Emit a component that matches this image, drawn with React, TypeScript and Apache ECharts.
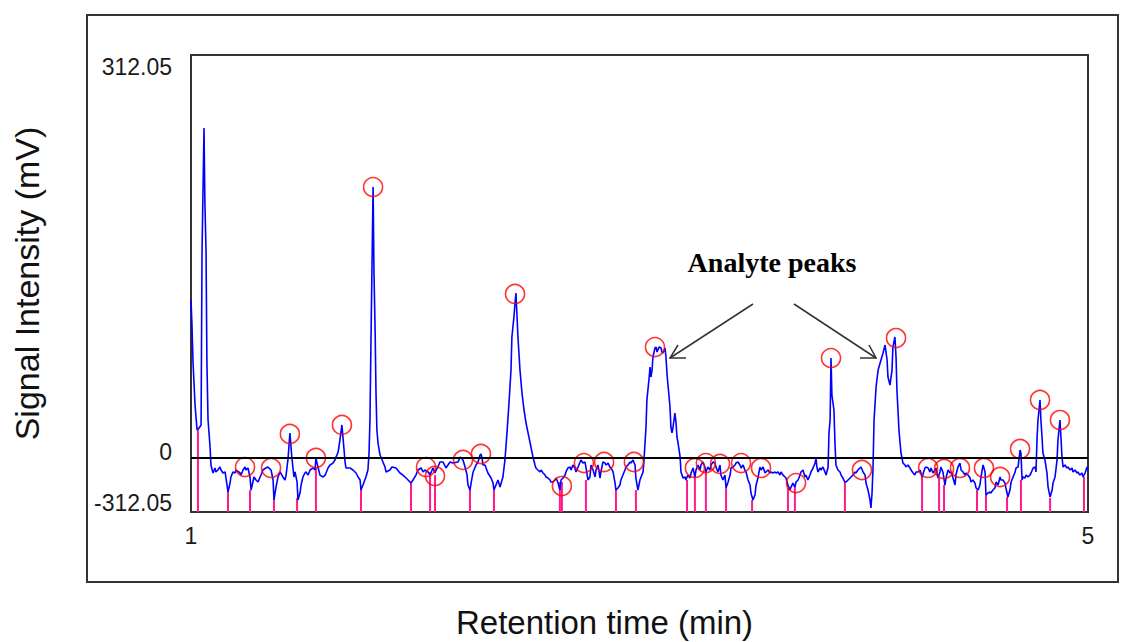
import React, { useEffect, useRef } from "react";
import * as echarts from "echarts";

// ---- axis ranges and tick labels ----
const X_MIN = 1;
const X_MAX = 5;
const Y_MIN = -41.8;
const Y_MAX = 312.05;
const xTickValues = [1, 5];
const yTickValues = [Y_MIN, 0, Y_MAX];
const yTickLabels = ["-312.05", "0", "312.05"];

// ---- chromatogram trace (retention time in min, signal) ----
const traceTime = [
  1.000,1.004,1.009,1.018,1.027,1.036,1.045,1.049,1.058,1.062,1.067,1.071,1.076,1.085,1.089,1.098,1.107,1.111,1.120,1.129,
  1.134,1.143,1.152,1.156,1.165,1.174,1.178,1.187,1.196,1.201,1.219,1.223,1.232,1.241,1.245,1.254,1.263,1.268,1.281,1.290,
  1.299,1.312,1.321,1.334,1.343,1.357,1.366,1.370,1.379,1.388,1.397,1.410,1.419,1.424,1.433,1.441,1.446,1.450,1.459,1.464,
  1.473,1.477,1.486,1.491,1.499,1.508,1.513,1.522,1.531,1.544,1.553,1.557,1.566,1.575,1.589,1.598,1.602,1.611,1.620,1.633,
  1.642,1.647,1.656,1.664,1.673,1.678,1.687,1.691,1.709,1.722,1.736,1.745,1.754,1.758,1.767,1.780,1.789,1.794,1.798,1.803,
  1.812,1.816,1.821,1.825,1.829,1.834,1.843,1.856,1.865,1.870,1.887,1.896,1.914,1.932,1.945,1.959,1.968,1.981,1.990,2.003,
  2.012,2.026,2.035,2.043,2.057,2.066,2.079,2.088,2.093,2.101,2.110,2.124,2.137,2.155,2.168,2.191,2.200,2.213,2.222,2.231,
  2.235,2.244,2.249,2.258,2.271,2.280,2.289,2.293,2.298,2.302,2.311,2.324,2.338,2.347,2.351,2.360,2.369,2.378,2.387,2.391,
  2.400,2.409,2.418,2.427,2.431,2.440,2.445,2.449,2.454,2.458,2.467,2.476,2.485,2.494,2.503,2.516,2.525,2.534,2.538,2.547,
  2.556,2.561,2.570,2.579,2.583,2.592,2.601,2.605,2.614,2.623,2.628,2.637,2.645,2.650,2.659,2.668,2.672,2.681,2.690,2.695,
  2.703,2.712,2.717,2.726,2.735,2.739,2.748,2.757,2.761,2.770,2.779,2.784,2.793,2.802,2.806,2.815,2.824,2.828,2.837,2.846,
  2.851,2.860,2.868,2.873,2.882,2.891,2.895,2.904,2.913,2.917,2.926,2.935,2.940,2.949,2.958,2.962,2.971,2.980,2.984,2.993,
  3.002,3.007,3.016,3.020,3.029,3.033,3.042,3.047,3.051,3.056,3.060,3.069,3.074,3.078,3.087,3.096,3.100,3.105,3.114,3.118,
  3.123,3.132,3.136,3.140,3.145,3.149,3.158,3.163,3.167,3.172,3.181,3.185,3.194,3.203,3.207,3.216,3.225,3.230,3.239,3.247,
  3.252,3.261,3.270,3.274,3.283,3.292,3.296,3.305,3.314,3.319,3.328,3.337,3.341,3.350,3.359,3.363,3.372,3.381,3.386,3.395,
  3.404,3.408,3.417,3.426,3.430,3.439,3.448,3.453,3.462,3.470,3.475,3.484,3.493,3.497,3.506,3.515,3.520,3.528,3.537,3.542,
  3.551,3.560,3.564,3.573,3.582,3.586,3.595,3.604,3.609,3.618,3.626,3.631,3.640,3.649,3.653,3.662,3.671,3.676,3.684,3.693,
  3.698,3.707,3.716,3.720,3.729,3.738,3.742,3.751,3.760,3.765,3.774,3.783,3.787,3.791,3.796,3.805,3.809,3.818,3.827,3.832,
  3.841,3.845,3.850,3.854,3.858,3.867,3.872,3.876,3.885,3.894,3.899,3.907,3.916,3.921,3.930,3.939,3.943,3.952,3.961,3.965,
  3.974,3.983,3.988,3.997,4.006,4.010,4.019,4.028,4.032,4.037,4.041,4.046,4.055,4.064,4.073,4.086,4.095,4.104,4.108,4.117,
  4.126,4.130,4.139,4.144,4.148,4.157,4.166,4.175,4.184,4.188,4.197,4.206,4.211,4.220,4.228,4.233,4.242,4.251,4.255,4.260,
  4.273,4.278,4.287,4.295,4.300,4.309,4.318,4.322,4.331,4.340,4.344,4.353,4.362,4.367,4.376,4.385,4.389,4.398,4.407,4.411,
  4.420,4.429,4.434,4.443,4.452,4.456,4.465,4.474,4.478,4.487,4.496,4.501,4.510,4.518,4.523,4.532,4.541,4.545,4.554,4.563,
  4.567,4.576,4.585,4.590,4.599,4.608,4.612,4.621,4.630,4.634,4.643,4.652,4.657,4.666,4.675,4.679,4.688,4.697,4.701,4.706,
  4.710,4.719,4.724,4.732,4.741,4.746,4.755,4.764,4.768,4.773,4.777,4.786,4.790,4.795,4.799,4.808,4.817,4.822,4.831,4.840,
  4.844,4.853,4.862,4.866,4.875,4.880,4.884,4.889,4.897,4.906,4.911,4.920,4.929,4.933,4.942,4.951,4.955,4.964,4.973,4.978,
  4.987,4.996,5.000,
];

const traceValue = [
  122.3,104.5,74.3,41.0,21.7,23.2,25.6,157.2,255.5,197.5,161.1,73.6,29.4,8.5,-5.4,-11.6,-7.7,-10.8,-9.3,-7.0,
  -9.3,-11.6,-10.8,-15.5,-26.3,-19.4,-14.7,-10.8,-11.6,-9.3,-11.6,-13.2,-9.3,-7.0,-9.3,-7.7,-14.7,-24.8,-14.7,-17.0,
  -18.6,-13.2,-9.3,-7.7,-7.0,-9.3,-17.0,-32.5,-22.5,-14.7,-10.8,-14.7,-17.0,-13.2,0,19.4,8.5,0,-14.7,-10.8,
  -18.6,-32.5,-27.1,-20.9,-14.7,-11.6,-10.8,-13.2,-9.3,-7.7,-9.3,0,-7.0,-13.2,-14.7,-13.2,-11.6,-7.7,-5.4,-3.9,
  -1.5,0.8,4.6,13.9,25.6,15.5,-3.1,-7.7,-7.7,-9.3,-11.6,-14.7,-17.0,-24.8,-20.9,-14.7,-9.3,3.9,29.4,96.8,
  209.8,143.2,99.1,50.3,21.7,11.6,2.3,-3.1,-7.0,-10.8,-9.3,-7.0,-7.7,-11.6,-13.2,-15.5,-17.0,-19.4,-17.0,-13.2,
  -9.3,-7.7,-10.8,-9.3,-10.8,-13.2,-7.7,-11.6,-9.3,-7.0,-3.1,-3.1,-7.7,-3.1,-3.9,-3.1,0.8,-1.5,-7.0,-13.2,
  -20.9,-24.8,-19.4,-10.8,-5.4,-3.1,2.3,3.1,0,-5.4,-5.4,-11.6,-15.5,-19.4,-24.8,-20.9,-17.0,-22.5,-17.0,-14.7,
  -1.5,19.4,42.6,68.1,93.7,109.2,120.0,127.8,109.2,93.7,68.1,50.3,37.2,27.1,19.4,8.5,0.8,-5.4,-7.7,-9.3,
  -10.8,-9.3,-11.6,-13.2,-14.7,-15.5,-17.0,-18.6,-18.6,-17.0,-15.5,-19.4,-24.8,-17.0,-15.5,-13.2,-10.8,-7.7,-7.0,-9.3,
  -5.4,-7.7,-10.8,-7.0,-3.1,-1.5,-3.9,-3.1,-7.0,-17.0,-14.7,-5.4,-9.3,-14.7,-9.3,-5.4,-15.5,-10.8,-3.1,-3.9,
  -5.4,-3.9,-7.0,-7.7,-10.8,-19.4,-24.8,-23.2,-20.9,-17.0,-13.2,-9.3,-7.0,-5.4,-3.1,-3.9,-1.5,-5.4,-15.5,-24.8,
  -17.0,-14.7,-10.8,-1.5,24.0,44.9,60.4,70.5,62.7,68.1,78.2,85.2,85.9,82.1,85.9,85.2,82.1,81.3,85.2,78.2,
  64.3,47.2,39.5,24.0,19.4,23.2,34.8,27.1,16.3,11.6,0.8,-10.8,-15.5,-14.7,-17.0,-13.2,-15.5,-11.6,-7.7,-14.7,
  -9.3,-5.4,-9.3,-5.4,-3.1,-7.0,-10.8,-7.0,-9.3,-5.4,-3.1,-3.9,-7.0,-10.8,-5.4,-13.2,-17.0,-13.2,-23.2,-18.6,
  -13.2,-7.7,-7.0,-5.4,-3.9,-3.1,-5.4,-7.7,-5.4,-9.3,-10.8,-17.0,-20.9,-27.1,-32.5,-28.6,-20.9,-15.5,-7.0,-9.3,
  -7.0,-11.6,-10.8,-9.3,-11.6,-10.8,-11.6,-10.8,-11.6,-10.8,-13.2,-10.8,-13.2,-14.7,-15.5,-20.9,-24.8,-22.5,-19.4,-22.5,
  -18.6,-17.0,-13.2,-10.8,-9.3,-14.7,-13.2,-17.0,-13.2,-10.8,-7.7,-3.9,0,-7.0,-10.8,-7.7,-9.3,-7.0,-10.8,-13.2,
  -7.0,19.4,29.4,77.4,48.8,37.2,10.1,-5.4,-9.3,-10.8,-13.2,-15.5,-18.6,-18.6,-17.0,-15.5,-14.7,-13.2,-10.8,-11.6,
  -9.3,-7.7,-7.0,-10.8,-13.2,-19.4,-24.8,-32.5,-38.7,-27.1,-9.3,29.4,55.0,68.1,73.6,81.3,87.5,75.9,62.7,56.5,
  68.1,85.9,93.7,78.2,52.7,21.7,3.9,-3.9,-5.4,-7.0,-5.4,-7.7,-9.3,-11.6,-13.2,-10.8,-10.8,-9.3,-11.6,-14.7,
  -7.7,-7.0,-7.7,-10.8,-7.7,-11.6,-9.3,-7.7,-15.5,-10.8,-7.0,-10.8,-20.9,-15.5,-9.3,-11.6,-10.8,-15.5,-20.9,-13.2,
  -7.0,-3.9,-9.3,-10.8,-13.2,-11.6,-13.2,-15.5,-18.6,-17.0,-19.4,-23.2,-24.8,-20.9,-14.7,-5.4,-10.8,-28.6,-27.1,-26.3,
  -27.1,-24.8,-23.2,-18.6,-20.9,-14.7,-17.0,-17.0,-19.4,-23.2,-30.2,-24.8,-18.6,-14.7,-10.8,-7.7,-7.0,6.2,3.9,-17.0,
  -14.7,-15.5,-13.2,-14.7,-13.2,-11.6,-7.7,-7.0,-10.8,16.3,29.4,44.9,29.4,16.3,3.9,-1.5,-11.6,-22.5,-30.2,-24.8,
  -19.4,-14.7,-1.5,13.9,29.4,13.9,0.8,-7.0,-5.4,-7.7,-7.0,-9.3,-7.7,-10.8,-9.3,-11.6,-10.8,-13.2,-11.6,-14.7,
  -11.6,-7.0,-9.3,
];

// ---- detected peaks (red circles) ----
const peakTime = [
  1.241,1.357,1.441,1.557,1.673,1.812,2.048,2.088,2.213,2.293,2.445,2.654,2.752,2.842,2.975,3.069,3.247,
  3.296,3.359,3.453,3.542,3.698,3.854,3.992,4.144,4.287,4.358,4.429,4.536,4.608,4.697,4.786,4.875,
];
const peakValue = [
  -7.0,-7.7,18.6,0,25.6,209.8,-7.0,-13.9,-1.5,3.1,127.0,-21.7,-3.9,-3.1,-3.1,85.9,-7.7,
  -3.9,-4.6,-3.9,-7.7,-19.4,77.4,-9.3,92.9,-7.7,-8.5,-7.7,-7.7,-14.7,7.0,44.9,29.4,
];

// ---- peak boundary markers (pink lines) ----
const markerTime = [
  1.031,1.165,1.263,1.370,1.473,1.557,1.758,1.981,2.066,2.088,2.244,2.351,2.645,2.654,2.761,2.895,2.984,
  3.212,3.247,3.296,3.386,3.502,3.662,3.693,3.916,4.260,4.336,4.358,4.505,4.545,4.639,4.701,4.831,4.982,
];
const markerValue = [
  21.7,-24.8,-24.8,-31.0,-31.0,-7.7,-23.2,-19.4,-10.8,-13.2,-24.0,-24.8,-18.6,-18.6,-17.0,-24.8,-24.8,
  -17.0,-13.2,-9.3,-23.2,-32.5,-23.2,-20.9,-18.6,-14.7,-15.5,-20.9,-24.8,-28.6,-30.2,-17.0,-31.0,-14.7,
];

const FONT = "'Liberation Sans', Arial, sans-serif";

export default function App() {
  const ref = useRef<HTMLDivElement>(null);

  useEffect(() => {
    if (!ref.current) return;
    const chart = echarts.init(ref.current, null, { renderer: "svg" });

    const trace = traceTime.map((t, i) => [t, traceValue[i]]);
    const peaks = peakTime.map((t, i) => [t, peakValue[i]]);
    const markers = markerTime.map((t, i) => [t, markerValue[i]]);

    const richNames = ["b", "m", "t"];

    chart.setOption({
      animation: false,
      backgroundColor: "#ffffff",
      grid: {
        left: 191,
        top: 55,
        right: 41,
        bottom: 130,
        containLabel: false,
        outerBoundsMode: "none",
        show: true,
        borderColor: "#333333",
        borderWidth: 2,
        backgroundColor: "transparent",
      },
      xAxis: {
        type: "value",
        min: X_MIN,
        max: X_MAX,
        axisLine: { show: false },
        axisTick: { show: false },
        splitLine: { show: false },
        axisLabel: {
          customValues: xTickValues,
          margin: 12,
          fontSize: 23,
          fontFamily: FONT,
          color: "#1a1a1a",
        },
        name: "Retention time (min)",
        nameLocation: "middle",
        nameGap: 94,
        nameTextStyle: {
          fontSize: 33,
          fontFamily: FONT,
          color: "#111111",
          padding: [0, 70, 0, 0],
        },
      },
      yAxis: {
        type: "value",
        min: Y_MIN,
        max: Y_MAX,
        axisLine: { show: false },
        axisTick: { show: false },
        splitLine: { show: false },
        axisLabel: {
          customValues: yTickValues,
          margin: 19,
          fontSize: 23,
          fontFamily: FONT,
          color: "#1a1a1a",
          formatter: (v: number) => {
            const i = yTickValues.indexOf(v);
            if (i < 0) return "";
            return `{${richNames[i]}|${yTickLabels[i]}}`;
          },
          rich: {
            t: { fontSize: 23, fontFamily: FONT, color: "#1a1a1a", padding: [24, 0, 0, 0] },
            m: { fontSize: 23, fontFamily: FONT, color: "#1a1a1a", padding: [0, 0, 12, 0] },
            b: { fontSize: 23, fontFamily: FONT, color: "#1a1a1a", padding: [0, 0, 18, 0] },
          },
        },
        name: "Signal Intensity (mV)",
        nameLocation: "middle",
        nameGap: 147,
        nameTextStyle: {
          fontSize: 34,
          fontFamily: FONT,
          color: "#111111",
        },
      },
      series: [
        {
          type: "custom",
          name: "Peak boundaries",
          z: 2,
          data: markers,
          renderItem: (_params: any, api: any) => {
            const x = api.value(0);
            const y = api.value(1);
            const p1 = api.coord([x, Y_MIN]);
            const p2 = api.coord([x, y]);
            return {
              type: "line",
              shape: { x1: p1[0], y1: p1[1], x2: p2[0], y2: p2[1] },
              style: { stroke: "#ff1a8c", lineWidth: 2 },
            };
          },
        },
        {
          type: "line",
          name: "Signal",
          z: 3,
          data: trace,
          showSymbol: false,
          symbol: "none",
          lineStyle: { color: "#0000ff", width: 1.6 },
          markLine: {
            silent: true,
            symbol: "none",
            label: { show: false },
            lineStyle: { color: "#000000", width: 2, type: "solid" },
            data: [{ yAxis: 0 }],
          },
        },
        {
          type: "scatter",
          name: "Peaks",
          z: 4,
          data: peaks,
          symbol: "circle",
          symbolSize: 19,
          itemStyle: { color: "rgba(0,0,0,0)", borderColor: "#ff0000", borderWidth: 1.6 },
        },
      ],
      graphic: [
        {
          type: "rect",
          shape: { x: 87, y: 15, width: 1031, height: 567 },
          style: { fill: "none", stroke: "#333333", lineWidth: 2 },
          silent: true,
        },
        {
          type: "text",
          style: {
            text: "Analyte peaks",
            x: 772,
            y: 262,
            align: "center",
            verticalAlign: "middle",
            fontSize: 28,
            fontWeight: "bold",
            fontFamily: "'Liberation Serif', 'Times New Roman', serif",
            fill: "#000000",
          },
        },
        {
          type: "line",
          shape: { x1: 753, y1: 304, x2: 670, y2: 358 },
          style: { stroke: "#333333", lineWidth: 1.5 },
        },
        {
          type: "polyline",
          shape: { points: [[686, 358], [670, 358], [678, 345]] },
          style: { stroke: "#333333", lineWidth: 1.5, fill: "none" },
        },
        {
          type: "line",
          shape: { x1: 794, y1: 304, x2: 876, y2: 358 },
          style: { stroke: "#333333", lineWidth: 1.5 },
        },
        {
          type: "polyline",
          shape: { points: [[860, 358], [876, 358], [869, 345]] },
          style: { stroke: "#333333", lineWidth: 1.5, fill: "none" },
        },
      ],
    });

    return () => chart.dispose();
  }, []);

  return (
    <div
      ref={ref}
      style={{ position: "absolute", left: 0, top: 0, width: 1129, height: 642, background: "#fff" }}
    />
  );
}
